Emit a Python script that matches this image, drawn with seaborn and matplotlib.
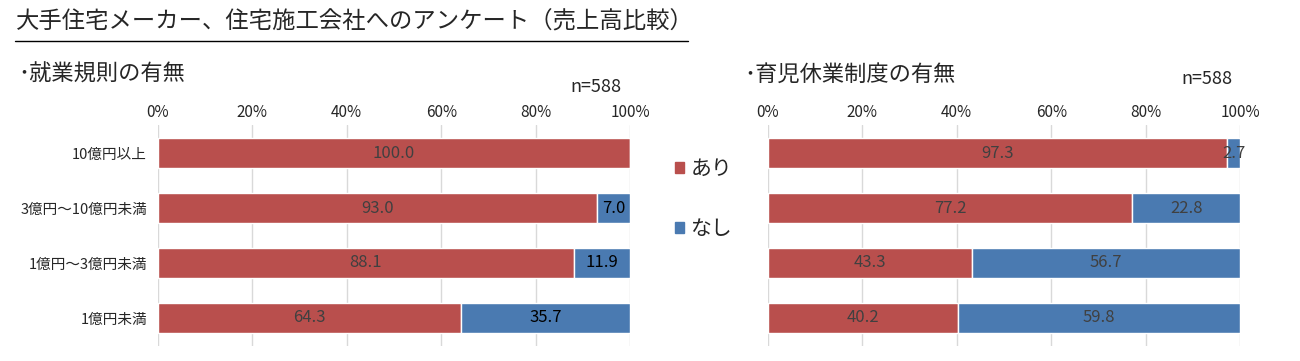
import matplotlib
matplotlib.use("Agg")
import matplotlib.pyplot as plt
import seaborn as sns
import pandas as pd
from matplotlib.lines import Line2D
from matplotlib.patches import Patch

categories = ["10億円以上", "3億円～10億円未満", "1億円～3億円未満", "1億円未満"]
rules_ari = [100.0, 93.0, 88.1, 64.3]
rules_nashi = [0.0, 7.0, 11.9, 35.7]
leave_ari = [97.3, 77.2, 43.3, 40.2]
leave_nashi = [2.7, 22.8, 56.7, 59.8]
xticks = [0, 20, 40, 60, 80, 100]

RED = "#B94F4D"
BLUE = "#4A7AB1"

sns.set_theme(style="white")
plt.rcParams["font.family"] = ["Noto Sans CJK JP", "DejaVu Sans"]

fig = plt.figure(figsize=(13, 3.61), dpi=100)

bottom = (361 - 346) / 361
height = (346 - 125) / 361
ax1 = fig.add_axes([158 / 1300, bottom, 472 / 1300, height])
ax2 = fig.add_axes([768 / 1300, bottom, 472 / 1300, height])


def draw(ax, ari, nashi, show_labels, nashi_color):
    df = pd.DataFrame({"cat": categories, "ari": ari, "nashi": nashi})
    sns.barplot(data=df, x="ari", y="cat", color=RED, saturation=1,
                width=0.55, ax=ax, zorder=2)
    red = ax.containers[0]
    blue = ax.barh(range(len(categories)), df["nashi"], left=df["ari"],
                   height=0.55, color=BLUE, zorder=2)
    ax.bar_label(red, labels=[f"{v:.1f}" for v in ari], label_type="center",
                 color="#404040", fontsize=12)
    ax.bar_label(blue, labels=[f"{v:.1f}" if v > 0 else "" for v in nashi],
                 label_type="center", color=nashi_color, fontsize=12)
    ax.set_xlim(0, 100)
    ax.set_ylim(3.51, -0.51)
    ax.set_xticks(xticks)
    ax.set_xticklabels([f"{t}%" for t in xticks], fontsize=11)
    ax.xaxis.tick_top()
    ax.tick_params(axis="x", length=0, pad=3)
    ax.tick_params(axis="y", length=0, pad=8)
    ax.grid(axis="x", color="#D9D9D9", linewidth=1, zorder=0)
    ax.set_axisbelow(True)
    for s in ax.spines.values():
        s.set_visible(False)
    ax.set_xlabel("")
    ax.set_ylabel("")
    if show_labels:
        ax.set_yticks(range(len(categories)))
        ax.set_yticklabels(categories, fontsize=10.5)
    else:
        ax.set_yticks([])


draw(ax1, rules_ari, rules_nashi, True, "black")
draw(ax2, leave_ari, leave_nashi, False, "#404040")

fig.text(16 / 1300, 1 - 22 / 361, "大手住宅メーカー、住宅施工会社へのアンケート（売上高比較）",
         fontsize=16.8, va="center", ha="left")
fig.add_artist(Line2D([15 / 1300, 688 / 1300], [1 - 41 / 361, 1 - 41 / 361],
                      color="black", linewidth=1))
fig.text(18 / 1300, 1 - 74 / 361, "･就業規則の有無", fontsize=16, va="center", ha="left")
fig.text(744 / 1300, 1 - 74 / 361, "･育児休業制度の有無", fontsize=16, va="center", ha="left")
fig.text(596 / 1300, 1 - 87 / 361, "n=588", fontsize=13, va="center", ha="center")
fig.text(1207 / 1300, 1 - 79 / 361, "n=588", fontsize=13, va="center", ha="center")

handles = [Patch(color=RED), Patch(color=BLUE)]
fig.legend(handles, ["あり", "なし"], loc="center left",
           bbox_to_anchor=(656 / 1300, 1 - 199 / 361), frameon=False,
           fontsize=15, handlelength=0.45, handleheight=0.45, handletextpad=0.3,
           labelspacing=1.85)

fig.savefig("out.png", dpi=100)
